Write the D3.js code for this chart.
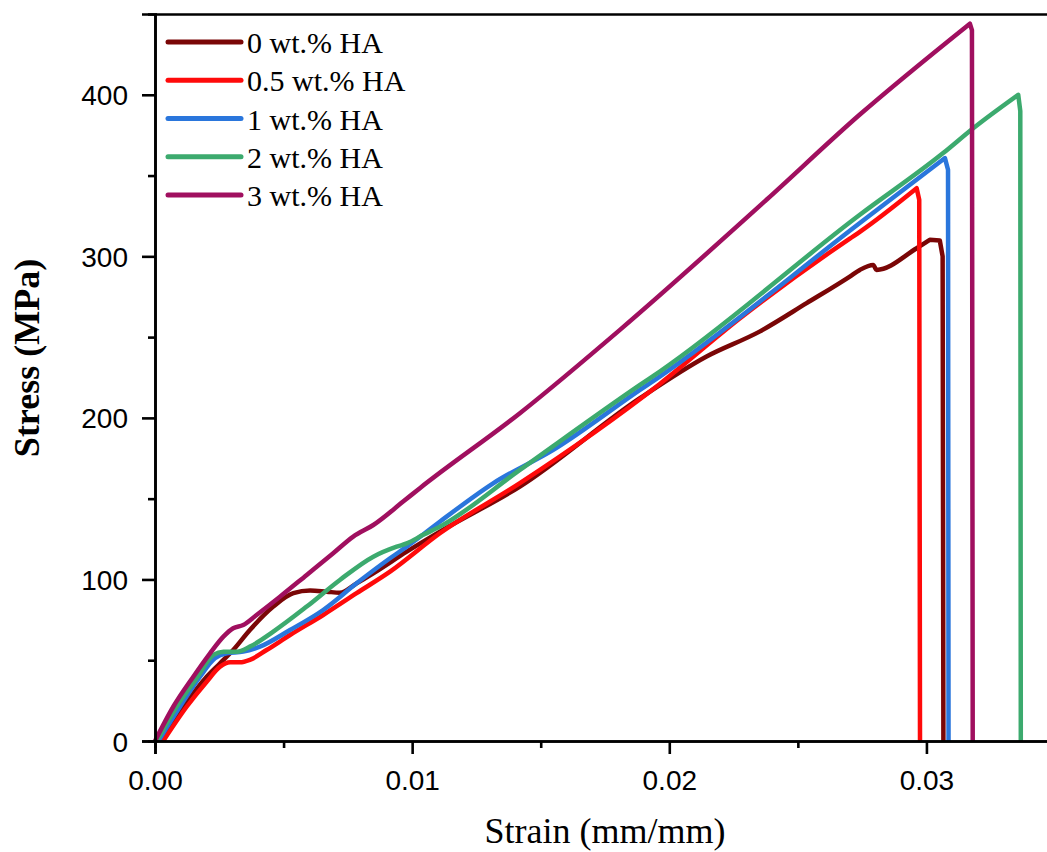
<!DOCTYPE html>
<html>
<head>
<meta charset="utf-8">
<script src="https://cdn.jsdelivr.net/npm/d3@7"></script>
<style>
html, body { margin: 0; padding: 0; background: #fff; }
svg { display: block; }
</style>
</head>
<body>
<svg id="chart" width="1047" height="852"></svg>
<script>
// ---- data ----
const seriesNames = ["0 wt.% HA", "0.5 wt.% HA", "1 wt.% HA", "2 wt.% HA", "3 wt.% HA"];
const seriesColors = ["#7a0606", "#ff0a0a", "#2a76dc", "#3caa6e", "#a00f5f"];

const strain0 = [0.0002,0.00110,0.00201,0.00253,0.00304,0.00369,0.00460,0.00538,0.00603,0.00668,0.00719,0.00784,0.00849,0.00979,0.01108,0.01419,0.01886,0.02145,0.02351,0.02534,0.02702,0.02741,0.02793,0.02806,0.02962,0.03013,0.03052,0.03063,0.03066];
const stress0 = [0,21.2,39.8,48.1,56.3,68.7,83.2,91.5,93.1,92.4,91.8,97.6,103.8,117.2,129.6,157.5,212.2,238.0,253.4,271.0,287.5,291.6,294.7,291.6,305.0,310.2,309.8,300,0];

const strain05 = [0.00032,0.00123,0.00201,0.00253,0.00292,0.00330,0.00369,0.00434,0.00525,0.00654,0.00784,0.00914,0.01108,0.01419,0.01963,0.02274,0.02702,0.02741,0.02962,0.02972,0.02975];
const stress05 = [0,21.2,36.7,46.0,48.7,48.7,50.2,56.3,65.6,78.0,91.5,104.8,128.6,159.6,221.0,261.5,311.0,315.2,342.2,335,0];

const strain1 = [0.00013,0.00097,0.00175,0.00233,0.00279,0.00343,0.00408,0.00525,0.00654,0.00784,0.00914,0.00979,0.01040,0.01110,0.01315,0.01549,0.01886,0.01963,0.02741,0.03072,0.03084,0.03086];
const stress1 = [0,21.2,39.8,51.2,54.3,55.3,58.4,68.7,81.1,97.6,113.1,120.3,127.5,136.0,159.5,180.2,217.3,225.6,320.6,360.8,353.6,0];

const strain2 = [0.00007,0.00084,0.00162,0.00227,0.00266,0.00318,0.00369,0.00460,0.00590,0.00719,0.00849,0.00940,0.00979,0.01043,0.01108,0.01419,0.01886,0.01963,0.02741,0.03065,0.03182,0.03357,0.03365,0.03367];
const stress2 = [0,21.2,38.8,53.3,55.3,55.3,58.4,67.7,83.2,99.7,114.1,120.3,122.3,127.6,132.7,167.8,220.4,228.7,325.7,363.9,379.3,400.0,390,0];

const strain3 = [0,0.00071,0.00149,0.00214,0.00266,0.00304,0.00343,0.00395,0.00486,0.00590,0.00693,0.00771,0.00849,0.00965,0.01030,0.01419,0.01808,0.02378,0.02740,0.03169,0.03177,0.03180];
const stress3 = [0,21.2,39.8,54.3,64.6,69.8,71.8,78.0,89.3,102.8,116.2,126.5,133.7,148.2,156.5,202.9,254.5,335.0,387.6,444.0,440,0];

const strainSets = [strain0, strain05, strain1, strain2, strain3];
const stressSets = [stress0, stress05, stress1, stress2, stress3];

const xMajorTicks = [0, 0.01, 0.02, 0.03];
const xMinorTicks = [0.005, 0.015, 0.025];
const yMajorTicks = [0, 100, 200, 300, 400];
const yMinorTicks = [50, 150, 250, 350];

// ---- layout ----
const svg = d3.select("#chart");
const mLeft = 155, mRight = 1055, mTop = 14, mBottom = 741;

const x = d3.scaleLinear().domain([0, 0.035]).range([mLeft, mRight]);
const y = d3.scaleLinear().domain([0, 450]).range([mBottom, mTop]);

const tickFont = "'Liberation Sans', Arial, sans-serif";
const serif = "'Liberation Serif', 'Times New Roman', serif";

// curves: smooth rise up to the peak, straight fracture drop after it
const smoothLine = d3.line().x(d => x(d[0])).y(d => y(d[1])).curve(d3.curveMonotoneX);
const straightLine = d3.line().x(d => x(d[0])).y(d => y(d[1])).curve(d3.curveLinear);

const g = svg.append("g");
strainSets.forEach((xs, i) => {
  const pts = xs.map((v, j) => [v, stressSets[i][j]]);
  const peak = d3.maxIndex(pts, d => d[1]);
  const rise = smoothLine(pts.slice(0, peak + 1));
  const drop = straightLine(pts.slice(peak)).replace(/^M/, "L");
  g.append("path")
    .attr("d", rise + drop)
    .attr("fill", "none")
    .attr("stroke", seriesColors[i])
    .attr("stroke-width", 4.5)
    .attr("stroke-linejoin", "round")
    .attr("stroke-linecap", "butt");
});

// axes
function styleAxis(sel) {
  sel.select(".domain").attr("stroke", "#000").attr("stroke-width", 2.6);
  sel.selectAll(".tick line").attr("stroke", "#000").attr("stroke-width", 2.6);
}

// x minor
svg.append("g").attr("transform", `translate(0,${mBottom})`)
  .call(d3.axisBottom(x).tickValues(xMinorTicks).tickSize(7).tickFormat(""))
  .call(styleAxis);
// x major
const xa = svg.append("g").attr("transform", `translate(0,${mBottom})`)
  .call(d3.axisBottom(x).tickValues(xMajorTicks).tickSize(13).tickPadding(10).tickFormat(d3.format(".2f")))
  .call(styleAxis);
xa.selectAll("text").attr("font-family", tickFont).attr("font-size", 28).attr("fill", "#000")
  .attr("dy", null).attr("y", 49);

// y minor
svg.append("g").attr("transform", `translate(${mLeft},0)`)
  .call(d3.axisLeft(y).tickValues(yMinorTicks).tickSize(7).tickFormat(""))
  .call(styleAxis);
// y major
const ya = svg.append("g").attr("transform", `translate(${mLeft},0)`)
  .call(d3.axisLeft(y).tickValues(yMajorTicks).tickSize(13).tickPadding(14).tickFormat(d3.format("d")))
  .call(styleAxis);
ya.selectAll("text").attr("font-family", tickFont).attr("font-size", 28).attr("fill", "#000")
  .attr("dy", "0.36em");

// top & right frame
svg.append("g").attr("transform", `translate(0,${mTop})`)
  .call(d3.axisTop(x).tickValues([]).tickSizeOuter(0))
  .call(styleAxis);
svg.append("g").attr("transform", `translate(${mRight},0)`)
  .call(d3.axisRight(y).tickValues([]).tickSizeOuter(0))
  .call(styleAxis);

// axis titles
svg.append("text")
  .attr("x", 605).attr("y", 843)
  .attr("text-anchor", "middle")
  .attr("font-family", serif).attr("font-size", 36)
  .attr("fill", "#000")
  .text("Strain (mm/mm)");

svg.append("text")
  .attr("transform", "translate(38.5,358) rotate(-90)")
  .attr("text-anchor", "middle")
  .attr("font-family", serif).attr("font-size", 36).attr("font-weight", "bold")
  .attr("fill", "#000")
  .text("Stress (MPa)");

// legend
const legendY = d3.scaleLinear().domain([0, 4]).range([42, 195]);
const lg = svg.append("g");
seriesNames.forEach((name, i) => {
  const yy = legendY(i);
  lg.append("line")
    .attr("x1", 168).attr("x2", 241).attr("y1", yy).attr("y2", yy)
    .attr("stroke", seriesColors[i]).attr("stroke-width", 5).attr("stroke-linecap", "round");
  lg.append("text")
    .attr("x", 247).attr("y", yy + 11)
    .attr("font-family", serif).attr("font-size", 30).attr("fill", "#000")
    .text(name);
});
</script>
</body>
</html>
